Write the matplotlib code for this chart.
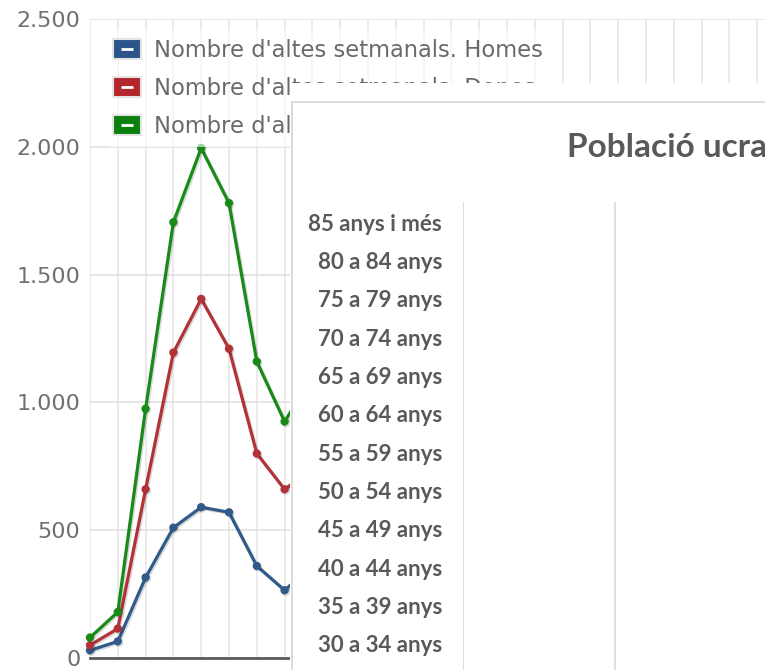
import matplotlib
matplotlib.use('Agg')
import matplotlib.pyplot as plt
from matplotlib.lines import Line2D
from matplotlib.legend_handler import HandlerTuple
from matplotlib.patches import Rectangle
import matplotlib.patheffects as pe

# ---------------- data ----------------
weeks = list(range(9))
homes = [30, 65, 315, 510, 590, 570, 360, 265, 360]
dones = [50, 115, 660, 1195, 1405, 1210, 800, 660, 740]
total = [80, 180, 975, 1705, 1995, 1780, 1160, 925, 1100]
series_labels = ["Nombre d'altes setmanals. Homes",
                 "Nombre d'altes setmanals. Dones",
                 "Nombre d'altes setmanals. Total"]
y_ticks = [0, 500, 1000, 1500, 2000, 2500]
y_tick_labels = ['0', '500', '1.000', '1.500', '2.000', '2.500']

age_groups = ['30 a 34 anys', '35 a 39 anys', '40 a 44 anys', '45 a 49 anys',
              '50 a 54 anys', '55 a 59 anys', '60 a 64 anys', '65 a 69 anys',
              '70 a 74 anys', '75 a 79 anys', '80 a 84 anys', '85 anys i més']
panel_title = 'Població ucraïnesa'

# ---------------- styles ----------------
line_colors = ['#2f5a8a', '#b23238', '#178a17']
legend_colors = ['#2b558a', '#b3262c', '#0c800c']

W, H = 765, 670
fig = plt.figure(figsize=(W / 100, H / 100), dpi=100)


def px_axes(left, top, right, bottom, **kw):
    return fig.add_axes([left / W, 1 - bottom / H, (right - left) / W, (bottom - top) / H], **kw)


# ---------------- background line chart ----------------
ax = px_axes(90, 19, 765, 658)
step = 27.8
ax.set_xlim(0, (765 - 90) / step)
ax.set_ylim(0, 2500)
ax.set_xticks(range(0, 25))
ax.set_xticklabels([])
ax.set_yticks(y_ticks, y_tick_labels)
ax.tick_params(axis='x', length=0)
ax.tick_params(axis='y', length=0, pad=7, labelsize=16, labelcolor='#707070')
ax.grid(True, axis='y', color='#dedede', lw=1.1)
ax.grid(True, axis='x', color='#e6e6e6', lw=1.1)
ax.set_axisbelow(True)
for s in ['top', 'right', 'left']:
    ax.spines[s].set_visible(False)
ax.spines['bottom'].set_color('#5a5a5a')
ax.spines['bottom'].set_linewidth(2.0)

for vals, c in zip([homes, dones, total], line_colors):
    ax.plot(weeks, vals, color=c, lw=2.3, marker='o', ms=5, clip_on=False, zorder=3,
            path_effects=[pe.SimpleLineShadow(offset=(1, -1), alpha=0.15), pe.Normal()])

rect_marker = [(-1.4, -1), (1.4, -1), (1.4, 1), (-1.4, 1), (-1.4, -1)]
handles = []
for c in legend_colors:
    box = Line2D([], [], ls='none', marker=rect_marker, ms=20, mfc=c, mec='#e4e4e4', mew=1.5)
    dash = Line2D([], [], ls='none', marker='_', ms=8, mec='white', mew=2)
    handles.append((box, dash))
leg = ax.legend(handles, series_labels, handler_map={tuple: HandlerTuple(ndivide=1)},
                loc='upper left', bbox_to_anchor=(107 / W, 1 - 30 / H),
                bbox_transform=fig.transFigure, fontsize=16.3, labelcolor='#6a6a6a',
                handlelength=0.93, handletextpad=0.76, labelspacing=0.67,
                borderpad=0.4, borderaxespad=0, frameon=True, fancybox=False)
leg.get_frame().set_facecolor('white')
leg.get_frame().set_alpha(0.6)
leg.get_frame().set_edgecolor('none')

# ---------------- overlaid panel ----------------
fig.add_artist(Rectangle((290 / W, -0.1), 1.0, 1.1 - 83 / H, transform=fig.transFigure,
                         facecolor='white', edgecolor='none', zorder=1))
fig.add_artist(Rectangle((292 / W, -0.1), 1.0, 1.1 - 102 / H, transform=fig.transFigure,
                         facecolor='white', edgecolor='#d4d4d4', lw=1.2, zorder=1.5))

pax = px_axes(463, 202, 767, 670, zorder=2)
pax.set_facecolor('none')
spacing = 38.36
pax.set_ylim(-(670 - 644) / spacing, (644 - 202) / spacing)
pax.set_yticks(range(len(age_groups)), age_groups)
pax.set_xlim(0, 2.0)
pax.set_xticks([0, 1, 2])
pax.set_xticklabels([])
pax.tick_params(axis='both', length=0)
pax.tick_params(axis='y', pad=15)
for lab in pax.get_yticklabels():
    lab.set_fontfamily('Lato')
    lab.set_fontweight('bold')
    lab.set_fontsize(16)
    lab.set_color('#595959')
pax.grid(True, axis='x', color='#d9d9d9', lw=1.2)
for s in pax.spines.values():
    s.set_visible(False)

fig.text(567 / W, 1 - 157 / H, panel_title, fontsize=24, fontweight='bold',
         family='Lato', color='#595959', ha='left', va='baseline', zorder=3)

fig.savefig('out.png', dpi=100)
